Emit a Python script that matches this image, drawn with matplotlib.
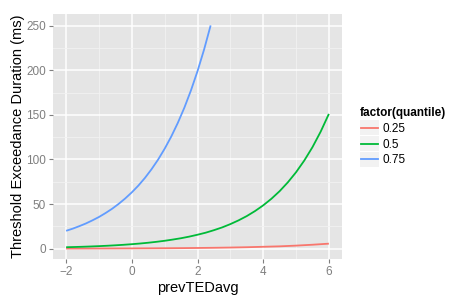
import matplotlib
matplotlib.use("Agg")
import matplotlib.pyplot as plt
from matplotlib.patches import Rectangle
from matplotlib.legend_handler import HandlerLine2D
from matplotlib.lines import Line2D

plt.rcParams['font.family'] = ['Liberation Sans', 'DejaVu Sans']

# data
x_q25 = [-2, -1.5, -1, -0.5, 0, 0.5, 1, 1.5, 2, 2.5, 3, 3.5, 4, 4.5, 5, 5.5, 6]
y_q25 = [0.10, 0.13, 0.17, 0.22, 0.28, 0.36, 0.46, 0.59, 0.76, 0.97, 1.25,
         1.6, 2.1, 2.6, 3.4, 4.4, 5.6]

x_q50 = [-2, -1.75, -1.5, -1.25, -1, -0.75, -0.5, -0.25, 0, 0.25, 0.5, 0.75,
         1, 1.25, 1.5, 1.75, 2, 2.25, 2.5, 2.75, 3, 3.25, 3.5, 3.75, 4, 4.25,
         4.5, 4.75, 5, 5.25, 5.5, 5.75, 6]
y_q50 = [1.6, 1.84, 2.12, 2.45, 2.82, 3.25, 3.76, 4.33, 5.0, 5.76, 6.64, 7.66,
         8.82, 10.2, 11.7, 13.5, 15.6, 17.9, 20.7, 23.8, 27.5, 31.7, 36.5, 42.1,
         48.5, 55.9, 64.4, 74.3, 85.6, 98.7, 113.7, 131.1, 151.0]

x_q75 = [-2, -1.8, -1.6, -1.4, -1.2, -1.0, -0.8, -0.6, -0.4, -0.2, 0, 0.2,
         0.4, 0.6, 0.8, 1.0, 1.2, 1.4, 1.6, 1.8, 2.0, 2.2, 2.4]
y_q75 = [20.0, 22.4, 25.2, 28.2, 31.7, 35.5, 39.9, 44.7, 50.2, 56.3, 63.1,
         70.7, 79.3, 89.0, 99.8, 112.0, 125.6, 140.9, 158.0, 177.3, 198.9,
         223.1, 250.2]

labels = ['0.25', '0.5', '0.75']
colors = ['#F8766D', '#00BA38', '#619CFF']
xticks = [-2, 0, 2, 4, 6]
yticks = [0, 50, 100, 150, 200, 250]

fig = plt.figure(figsize=(4.75, 3.02), dpi=100)
ax = fig.add_axes([53/475, 43/302, (342-53)/475, (259-14)/302])
ax.set_facecolor('#E5E5E5')
for s in ax.spines.values():
    s.set_visible(False)

series = [(x_q25, y_q25), (x_q50, y_q50), (x_q75, y_q75)]
handles = []
for (xs, ys), lab, c in zip(series, labels, colors):
    h, = ax.plot(xs, ys, color=c, lw=1.3, label=lab, solid_capstyle='butt')
    handles.append(h)

ax.set_xlim(-2.4, 6.4)
ax.set_ylim(-11.6, 263)
ax.set_xticks(xticks)
ax.set_yticks(yticks)
ax.set_xticks([-1, 1, 3, 5], minor=True)
ax.set_yticks([25, 75, 125, 175, 225], minor=True)
ax.grid(True, which='major', color='white', lw=1.1)
ax.grid(True, which='minor', color='#F2F2F2', lw=0.6)
ax.set_axisbelow(True)
ax.tick_params(which='major', length=3, width=0.8, color='#7F7F7F',
               labelcolor='#7F7F7F', labelsize=8.5, pad=2)
ax.tick_params(which='minor', length=0)
ax.set_xlabel('prevTEDavg', fontsize=10.5, labelpad=2)
ax.set_ylabel('Threshold Exceedance Duration (ms)', fontsize=10.5, labelpad=1)

LS = 0.24
FS = 8.5


class KeyHandler(HandlerLine2D):
    def create_artists(self, legend, orig_handle, xdescent, ydescent, width,
                       height, fontsize, trans):
        pad = LS * fontsize / 2
        rect = Rectangle((-xdescent, -ydescent - pad), width, height + 2 * pad,
                         facecolor='#F2F2F2', edgecolor='none', transform=trans)
        line = Line2D([-xdescent + 1, -xdescent + width - 1],
                      [height / 2 - ydescent] * 2, color=orig_handle.get_color(),
                      lw=1.3, transform=trans)
        return [rect, line]


leg = fig.legend(handles=handles, labels=labels, loc='upper left',
                 bbox_to_anchor=(0.748, 0.662), frameon=False,
                 title='factor(quantile)',
                 title_fontproperties={'weight': 'bold', 'size': 8.5},
                 fontsize=FS, handlelength=1.6, handleheight=1.2,
                 handletextpad=0.3, labelspacing=LS, borderaxespad=0,
                 handler_map={Line2D: KeyHandler()})
leg._legend_box.align = 'left'

fig.savefig('out.png', dpi=100, facecolor='white')
